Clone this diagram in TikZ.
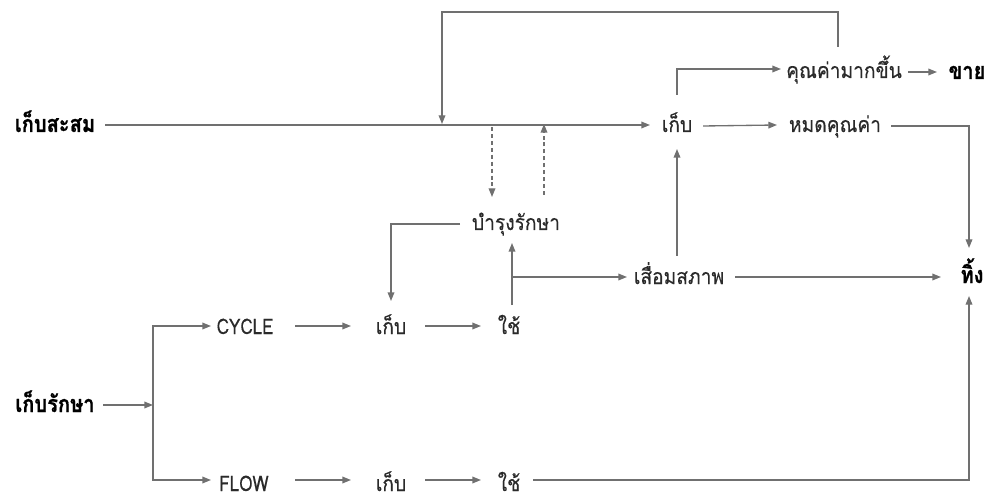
\documentclass[tikz,border=0pt]{standalone}
\usepackage{fontspec}
\setmainfont{Loma}[Script=Thai]
\newfontfamily\thaireg{Loma}[Script=Thai,FakeStretch=0.9,FakeBold=0.3]
\newfontfamily\latinreg{Loma}[FakeStretch=0.8,FakeBold=0.3]
\newfontfamily\thaibold{Loma}[Script=Thai,FakeStretch=0.86,BoldFeatures={FakeBold=0.8}]
\usetikzlibrary{arrows.meta}
\definecolor{linegray}{HTML}{707070}
\definecolor{textgray}{HTML}{2A2A2A}
\tikzset{
  lbl/.style={inner sep=0pt, anchor=base, font=\thaireg\fontsize{16}{18}\selectfont, text=textgray},
  latlbl/.style={lbl, font=\latinreg\fontsize{16}{18}\selectfont},
  blbl/.style={inner sep=0pt, anchor=base, font=\thaibold\fontsize{17.5}{20}\selectfont\bfseries, text=black},
  conn/.style={draw=linegray, line width=1pt},
  arr/.style={conn, -{Triangle[length=6.5pt,width=5pt]}},
  darr/.style={arr, dashed, dash pattern=on 3pt off 2.2pt},
}
\begin{document}
\begin{tikzpicture}[x=0.75pt,y=-0.75pt]
\useasboundingbox (0,0) rectangle (995,495);
% nodes
\node[blbl] (sasom) at (55,132) {เก็บสะสม};
\node[blbl] (raksa) at (55,412) {เก็บรักษา};
\node[latlbl] (cycle) at (245,334) {CYCLE};
\node[latlbl] (flow) at (244,491) {FLOW};
\node[lbl] (kebA) at (391,334) {เก็บ};
\node[lbl] (kebB) at (391,491) {เก็บ};
\node[lbl] (chaiA) at (509,334) {ใช้};
\node[lbl] (chaiB) at (509,491) {ใช้};
\node[lbl] (bam) at (516,230) {บำรุงรักษา};
\node[lbl] (sueam) at (679,284) {เสื่อมสภาพ};
\node[lbl] (kebT) at (677,132) {เก็บ};
\node[lbl] (mod) at (835,132) {หมดคุณค่า};
\node[lbl] (khun) at (844,78) {คุณค่ามากขึ้น};
\node[blbl] (khai) at (967,79) {ขาย};
\node[blbl] (thing) at (972,283) {ทิ้ง};
% coordinates
\coordinate (fork) at (153,405);
\coordinate (loopin) at (442,124);
\coordinate (dstart) at (492,127);
\coordinate (dend) at (544,124);
\coordinate (branch) at (512,277);
% main stored line
\draw[arr] (105,125) -- (650,125);
% top loop
\draw[arr] (838,47) -- (838,12) -- (442,12) -- (loopin);
% dashed
\draw[darr] (dstart) -- (492,197);
\draw[darr] (544,195) -- (dend);
% maintenance back to store
\draw[arr] (460,224) -- (391,224) -- (391,301);
% cycle row
\draw[arr] (295,326) -- (351,326);
\draw[arr] (425,326) -- (481,326);
% flow row
\draw[arr] (295,480) -- (351,480);
\draw[arr] (425,480) -- (481,480);
% fork
\draw[arr] (103,405) -- (fork);
\draw[arr] (fork) -- (153,326) -- (211,326);
\draw[arr] (fork) -- (153,480) -- (211,480);
% use -> maintain / deteriorate
\draw[arr] (512,305) -- (512,243);
\draw[arr] (branch) -- (627,277);
\draw[arr] (735,277) -- (941,277);
\draw[arr] (677,256) -- (677,149);
% upper store
\draw[arr] (703,126) -- (777,125);
\draw[arr] (891,126) -- (969,126) -- (969,248);
\draw[arr] (677,95) -- (677,69) -- (781,69);
\draw[arr] (908,72) -- (937,72);
% flow use -> discard
\draw[arr] (533,480) -- (969,480) -- (969,296);
\end{tikzpicture}
\end{document}
